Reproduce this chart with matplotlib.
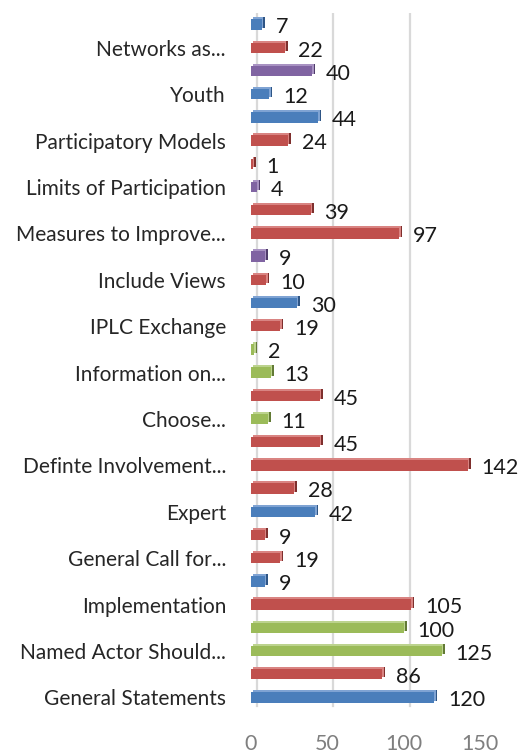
import matplotlib
matplotlib.use("Agg")
import matplotlib.pyplot as plt
import matplotlib.transforms as mtransforms
import numpy as np

# Data listed from bottom bar to top bar
labels = ["General Statements", "", "Named Actor Should...", "", "Implementation", "",
          "General Call for...", "", "Expert", "", "Definte Involvement...", "",
          "Choose...", "", "Information on...", "", "IPLC Exchange", "",
          "Include Views", "", "Measures to Improve...", "", "Limits of Participation", "",
          "Participatory Models", "", "Youth", "", "Networks as...", ""]
values = [120, 86, 125, 100, 105, 9, 19, 9, 42, 28, 142, 45, 11, 45, 13, 2, 19, 30,
          10, 9, 97, 39, 4, 1, 24, 44, 12, 40, 22, 7]
groups = ["b", "r", "g", "g", "r", "b", "r", "r", "b", "r", "r", "r", "g", "r", "g", "g",
          "r", "b", "r", "p", "r", "r", "p", "r", "r", "b", "b", "p", "r", "b"]
x_ticks = [0, 50, 100, 150]

palette = {"b": "#4A7EBB", "r": "#C0504D", "g": "#9BBB59", "p": "#8064A2"}
light = {"b": "#7FA3D3", "r": "#D98482", "g": "#BCD38E", "p": "#A892C2"}
dark = {"b": "#2E5585", "r": "#7E2F2D", "g": "#627A35", "p": "#4F3C6A"}

plt.rcParams['font.family'] = ['Lato', 'DejaVu Sans']

fig = plt.figure(figsize=(5.22, 7.53), dpi=100)
ax = fig.add_axes([251/522, 1-709/753, 229/522, 696/753])

y = np.arange(len(values))
h = 0.44
side = mtransforms.ScaledTranslation(3/100, 2/100, fig.dpi_scale_trans)
top = mtransforms.ScaledTranslation(1.5/100, 2/100, fig.dpi_scale_trans)

ax.barh(y, values, height=h, color=[dark[g] for g in groups], linewidth=0,
        zorder=2, transform=ax.transData + side)
ax.barh(y, values, height=h, color=[light[g] for g in groups], linewidth=0,
        zorder=2.5, transform=ax.transData + top)
ax.barh(y, values, height=h, color=[palette[g] for g in groups], linewidth=0, zorder=3)

for yi, v in zip(y, values):
    ax.annotate(str(v), (v, yi), xytext=(10, -2), textcoords="offset points",
                ha="left", va="center", fontsize=15.5, color="#1a1a1a", zorder=4)

ax.set_xlim(0, 150)
ax.set_ylim(-0.5, len(values) - 0.5)
ax.set_yticks(y)
ax.set_yticklabels(labels)
ax.set_xticks(x_ticks)
ax.tick_params(axis="y", length=0, pad=18, labelsize=15, labelcolor="#262626")
ax.tick_params(axis="x", length=0, pad=18, labelsize=15.5, labelcolor="#7f7f7f")
for s in ax.spines.values():
    s.set_visible(False)

ax.grid(axis="x", color="#D9D9D9", linewidth=1.6, zorder=0)
ax.grid(axis="y", visible=False)
off = mtransforms.ScaledTranslation(6/100, 3/100, fig.dpi_scale_trans)
for gl in ax.get_xgridlines():
    gl.set_transform(gl.get_transform() + off)

fig.savefig("out.png", dpi=100)
